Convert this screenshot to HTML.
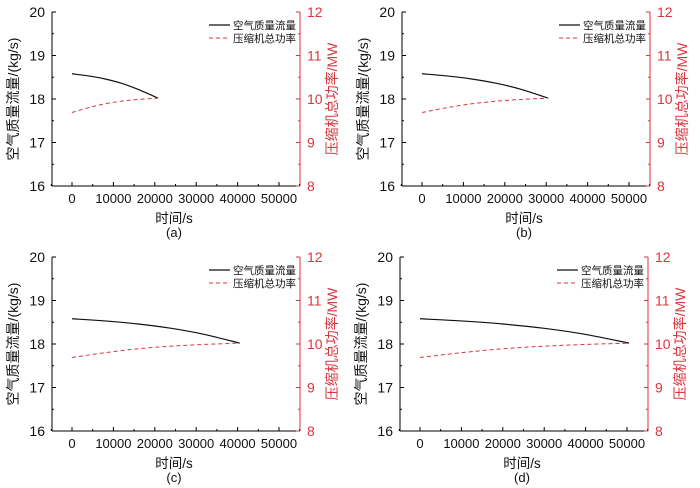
<!DOCTYPE html>
<html><head><meta charset="utf-8"><style>
body{margin:0;background:#fff;}
svg{display:block;font-family:"Liberation Sans","Noto Sans CJK SC",sans-serif;}
</style></head><body>
<svg id="chart" width="700" height="488" viewBox="0 0 700 488"></svg>
<script>
const panelLabels = ["(a)","(b)","(c)","(d)"];
const timeA = [0, 4000, 8000, 12000, 16000, 20800];
const flowA = [18.58, 18.53, 18.46, 18.36, 18.22, 18.02];
const powerA = [9.69, 9.80, 9.89, 9.95, 9.99, 10.02];
const timeB = [0, 6000, 12000, 18000, 24000, 30500];
const flowB = [18.58, 18.53, 18.46, 18.36, 18.22, 18.02];
const powerB = [9.69, 9.80, 9.89, 9.95, 9.99, 10.02];
const timeC = [0, 8000, 16000, 24000, 32000, 40500];
const flowC = [18.58, 18.53, 18.46, 18.36, 18.22, 18.02];
const powerC = [9.69, 9.80, 9.89, 9.95, 9.99, 10.02];
const timeD = [0, 10000, 20000, 30000, 40000, 50500];
const flowD = [18.58, 18.53, 18.46, 18.36, 18.22, 18.02];
const powerD = [9.69, 9.80, 9.89, 9.95, 9.99, 10.02];
const xTicks = [0, 10000, 20000, 30000, 40000, 50000];
const yLeftTicks = [16, 17, 18, 19, 20];
const yRightTicks = [8, 9, 10, 11, 12];
const legendLabels = ["空气质量流量", "压缩机总功率"];

const svg = document.getElementById('chart');
const NS = 'http://www.w3.org/2000/svg';
function mk(tag, attrs, parent, text){
  const e = document.createElementNS(NS, tag);
  for (const k in attrs) e.setAttribute(k, attrs[k]);
  if (text !== undefined) e.textContent = text;
  parent.appendChild(e);
  return e;
}
function smooth(pts){
  let d = `M${pts[0][0]},${pts[0][1]}`;
  for (let i=0;i<pts.length-1;i++){
    const p0=pts[Math.max(0,i-1)], p1=pts[i], p2=pts[i+1], p3=pts[Math.min(pts.length-1,i+2)];
    const c1x=p1[0]+(p2[0]-p0[0])/6, c1y=p1[1]+(p2[1]-p0[1])/6;
    const c2x=p2[0]-(p3[0]-p1[0])/6, c2y=p2[1]-(p3[1]-p1[1])/6;
    d += ` C${c1x},${c1y} ${c2x},${c2y} ${p2[0]},${p2[1]}`;
  }
  return d;
}
const RED = '#d9363e';
const panels = [
  {ox:52, oy:12, t:timeA, f:flowA, p:powerA},
  {ox:402, oy:12, t:timeB, f:flowB, p:powerB},
  {ox:52, oy:257, t:timeC, f:flowC, p:powerC},
  {ox:400, oy:257, t:timeD, f:flowD, p:powerD}
];
const W = 248, H = 174;
panels.forEach((pn, i) => {
  const g = mk('g', {}, svg);
  
  
  const x = v => pn.ox + 20 + (v / 50000) * 207;
  const yL = v => pn.oy + H - (v - 16) / 4 * H;
  const yR = v => pn.oy + H - (v - 8) / 4 * H;
  const la = mk('line', {x1:pn.ox, y1:pn.oy, x2:pn.ox, y2:pn.oy+H, stroke:'#000', 'stroke-width':1}, g);
   
  const ba = mk('line', {x1:pn.ox, y1:pn.oy+H, x2:pn.ox+W, y2:pn.oy+H, stroke:'#000', 'stroke-width':1}, g);
   
  const ra = mk('line', {x1:pn.ox+W, y1:pn.oy, x2:pn.ox+W, y2:pn.oy+H, stroke:RED, 'stroke-width':1}, g);
   
  xTicks.forEach(v => {
    mk('line', {x1:x(v), y1:pn.oy+H, x2:x(v), y2:pn.oy+H-4, stroke:'#000'}, g);
    mk('line', {x1:x(v+5000), y1:pn.oy+H, x2:x(v+5000), y2:pn.oy+H-2, stroke:'#000'}, g);
    const t = mk('text', {x:x(v), y:pn.oy+H+17, 'text-anchor':'middle', 'font-size':13, fill:'#111'}, g, String(v));
     
  });
  mk('line', {x1:x(-5000), y1:pn.oy+H, x2:x(-5000), y2:pn.oy+H-2, stroke:'#000'}, g);
  yLeftTicks.forEach(v => {
    mk('line', {x1:pn.ox, y1:yL(v), x2:pn.ox+4, y2:yL(v), stroke:'#000'}, g);
    if (v < 20) mk('line', {x1:pn.ox, y1:yL(v+0.5), x2:pn.ox+2, y2:yL(v+0.5), stroke:'#000'}, g);
    const t = mk('text', {x:pn.ox-7, y:yL(v)+5, 'text-anchor':'end', 'font-size':14, fill:'#111'}, g, String(v));
     
  });
  yRightTicks.forEach(v => {
    mk('line', {x1:pn.ox+W, y1:yR(v), x2:pn.ox+W-4, y2:yR(v), stroke:RED}, g);
    if (v < 12) mk('line', {x1:pn.ox+W, y1:yR(v+0.5), x2:pn.ox+W-2, y2:yR(v+0.5), stroke:RED}, g);
    const t = mk('text', {x:pn.ox+W+7, y:yR(v)+5, 'text-anchor':'start', 'font-size':14, fill:RED}, g, String(v));
     
  });
  const xt = mk('text', {x:pn.ox+W/2-2, y:pn.oy+H+37, 'text-anchor':'middle', 'font-size':13.5, fill:'#111'}, g, '时间/s');
   
  const cl = mk('text', {x:pn.ox+W/2-2, y:pn.oy+H+51, 'text-anchor':'middle', 'font-size':13, fill:'#111'}, g, panelLabels[i]);
   
  const lt = mk('text', {x:0, y:0, 'text-anchor':'middle', 'font-size':14, fill:'#111', transform:`translate(${pn.ox-34},${pn.oy+H/2}) rotate(-90)`}, g, '空气质量流量/(kg/s)');
   
  const rt = mk('text', {x:0, y:0, 'text-anchor':'middle', 'font-size':14, fill:RED, transform:`translate(${pn.ox+W+37},${pn.oy+H/2}) rotate(-90)`}, g, '压缩机总功率/MW');
   
  const fp = mk('path', {d: smooth(pn.t.map((t,k)=>[x(t), yL(pn.f[k])])), fill:'none', stroke:'#111', 'stroke-width':1.2}, g);
   
  const pp = mk('path', {d: smooth(pn.t.map((t,k)=>[x(t), yR(pn.p[k])])), fill:'none', stroke:RED, 'stroke-width':1, 'stroke-dasharray':'4,3'}, g);
   
  const lg = mk('g', {}, g);
   
  mk('line', {x1:pn.ox+157, y1:pn.oy+13, x2:pn.ox+178, y2:pn.oy+13, stroke:'#111', 'stroke-width':1.2}, lg);
  mk('text', {x:pn.ox+181, y:pn.oy+17, 'font-size':10.5, fill:'#111'}, lg, legendLabels[0]);
  mk('line', {x1:pn.ox+157, y1:pn.oy+26, x2:pn.ox+178, y2:pn.oy+26, stroke:RED, 'stroke-width':1, 'stroke-dasharray':'4,3'}, lg);
  mk('text', {x:pn.ox+181, y:pn.oy+30, 'font-size':10.5, fill:'#111'}, lg, legendLabels[1]);
});
</script>
</body></html>
